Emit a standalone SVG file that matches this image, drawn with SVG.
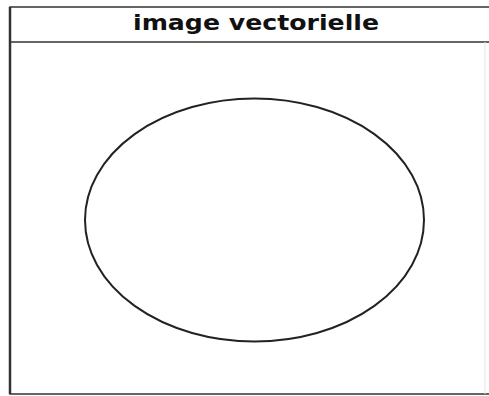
<svg xmlns="http://www.w3.org/2000/svg" width="489" height="396" viewBox="0 0 489 396">
<style>
.frame{fill:#fff;stroke:#333;stroke-width:1.5}
.title{font-family:"DejaVu Sans",Verdana,sans-serif;font-weight:bold;font-size:21px;fill:#111;text-anchor:middle}
.shape{fill:none;stroke:#222;stroke-width:2}
</style>
<rect width="489" height="396" fill="#fff"/>
<g id="frame">
<path class="frame" d="M489 7 H10 V394 H489"/>
<line x1="10" y1="42" x2="489" y2="42" stroke="#333" stroke-width="1.5"/>
<line x1="10" y1="7" x2="10" y2="394" stroke="#333" stroke-width="2.5"/>
<line x1="485" y1="42" x2="485" y2="394" stroke="#e4e4e4" stroke-width="1"/>
</g>
<g id="title">
<text class="title" x="256" y="30" textLength="246" lengthAdjust="spacingAndGlyphs">image vectorielle</text>
</g>
<g id="circle">
<ellipse class="shape" cx="254.5" cy="220" rx="169.5" ry="121.5"/>
</g>
</svg>
